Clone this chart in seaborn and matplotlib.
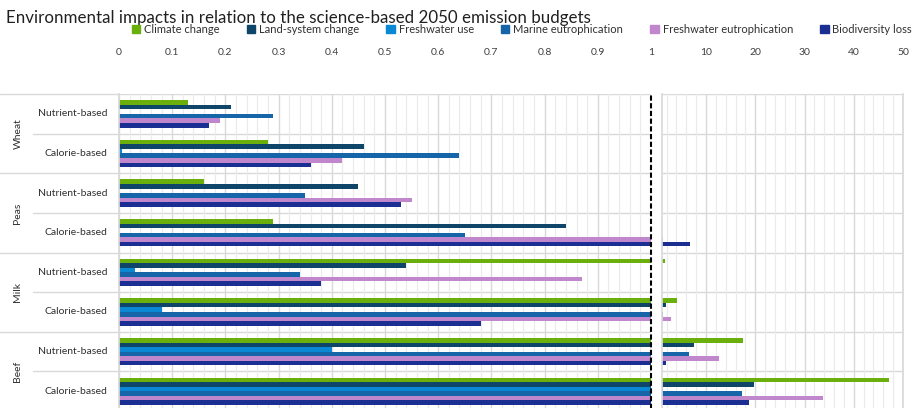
import numpy as np
import pandas as pd
import seaborn as sns
import matplotlib.pyplot as plt
from matplotlib.patches import Patch
from matplotlib.ticker import MultipleLocator

# dados (linhas: Wheat N, Wheat C, Peas N, Peas C, Milk N, Milk C, Beef N, Beef C)
products = ["Wheat", "Peas", "Milk", "Beef"]
bases = ["Nutrient-based", "Calorie-based"]
impacts = ["Climate change", "Land-system change", "Freshwater use",
           "Marine eutrophication", "Freshwater eutrophication", "Biodiversity loss"]
colors = ["#6aaf0c", "#0e4568", "#0a88d4", "#1565a8", "#c087cc", "#1a2f91"]

climate = [0.13, 0.28, 0.16, 0.29, 1.7, 4.2, 17.6, 47.2]
land = [0.21, 0.46, 0.45, 0.84, 0.54, 1.9, 7.6, 19.8]
freshwater = [0.0, 0.005, 0.0, 0.0, 0.03, 0.08, 0.40, 1.3]
marine = [0.29, 0.64, 0.35, 0.65, 0.34, 1.3, 6.6, 17.3]
fw_eutro = [0.19, 0.42, 0.55, 1.2, 0.87, 2.8, 12.6, 33.7]
biodiv = [0.17, 0.36, 0.53, 6.8, 0.38, 0.68, 1.9, 18.7]

rows = [f"{p} {b}" for p in products for b in bases]
df = pd.DataFrame(dict(zip(impacts, [climate, land, freshwater, marine, fw_eutro, biodiv])), index=rows)
df = df.reset_index(names="row").melt(id_vars="row", var_name="impact", value_name="value")
df["capped"] = df["value"].clip(upper=1)

sns.set_theme(style="white")
plt.rcParams['font.family'] = ['Lato', 'DejaVu Sans']

fig = plt.figure(figsize=(9.19, 4.08), dpi=100)
axL = fig.add_axes([119/919, -0.0075, 532/919, 0.777])
axR = fig.add_axes([661.7/919, -0.0075, 241.3/919, 0.777])

grid_major = "#d9d9d9"
grid_minor = "#ebebeb"

for ax, col in [(axL, "capped"), (axR, "value")]:
    sns.barplot(data=df, y="row", x=col, hue="impact", order=rows, hue_order=impacts,
                palette=colors, orient="h", width=0.69, saturation=1, errorbar=None,
                linewidth=0, legend=False, ax=ax)
    ax.set_ylim(7.5, -0.5)
    ax.set_xlabel("")
    ax.set_ylabel("")
    ax.set_yticks([])
    ax.set_axisbelow(True)
    ax.xaxis.tick_top()
    ax.grid(axis="x", which="major", color=grid_major, lw=1)
    ax.grid(axis="x", which="minor", color=grid_minor, lw=0.8)
    ax.hlines(np.arange(-0.5, 8, 1), *((0, 1) if ax is axL else (1, 50)), color=grid_major, lw=1, zorder=0)
    ax.tick_params(axis="x", which="both", length=0, pad=27, labelsize=7.5, colors="#404040")
    for s in ["top", "bottom", "right", "left"]:
        ax.spines[s].set_visible(False)

axL.set_xlim(0, 1)
axL.set_xticks(np.arange(0, 1.01, 0.1))
axL.set_xticklabels(["0"] + [f"{v:.1f}" for v in np.arange(0.1, 0.95, 0.1)] + ["1"])
axL.xaxis.set_minor_locator(MultipleLocator(0.02))
axL.spines["left"].set_visible(True)
axL.spines["left"].set_color(grid_major)
axL.axvline(1, color="black", ls=(0, (2.5, 1.2)), lw=1.5, clip_on=False, zorder=5)

axR.set_xlim(1, 50)
axR.set_xticks([10, 20, 30, 40, 50])
axR.xaxis.set_minor_locator(MultipleLocator(2))
axR.spines["left"].set_visible(True)
axR.spines["right"].set_visible(True)
axR.spines["left"].set_color(grid_major)
axR.spines["right"].set_color(grid_major)

# rótulos à esquerda e linhas separadoras
tr = axL.get_yaxis_transform()
for i, r in enumerate(rows):
    axL.text(-0.021, i, bases[i % 2], transform=tr, ha="right", va="center", fontsize=7.5, color="#303030")
for g, p in enumerate(products):
    axL.text(-0.19, 2 * g + 0.5, p, transform=tr, rotation=90, ha="center", va="center",
             fontsize=7.5, color="#303030")
for k, y in enumerate(np.arange(-0.5, 8, 1)):
    start = -0.2237 if k % 2 == 0 else -0.1617
    axL.plot([start, 0], [y, y], transform=tr, color=grid_major, lw=1, clip_on=False)

handles = [Patch(color=c, label=l) for c, l in zip(colors, impacts)]
fig.legend(handles=handles, loc="center", bbox_to_anchor=(0.568, 0.927), ncol=6, frameon=False,
           handlelength=0.75, handleheight=0.75, handletextpad=0.35, columnspacing=2.45,
           fontsize=8, labelcolor="#303030")

fig.text(6/919, 1 - 18/408, "Environmental impacts in relation to the science-based 2050 emission budgets",
         fontsize=12.2, ha="left", va="center", color="#202020")

plt.savefig("out.png", dpi=100)
